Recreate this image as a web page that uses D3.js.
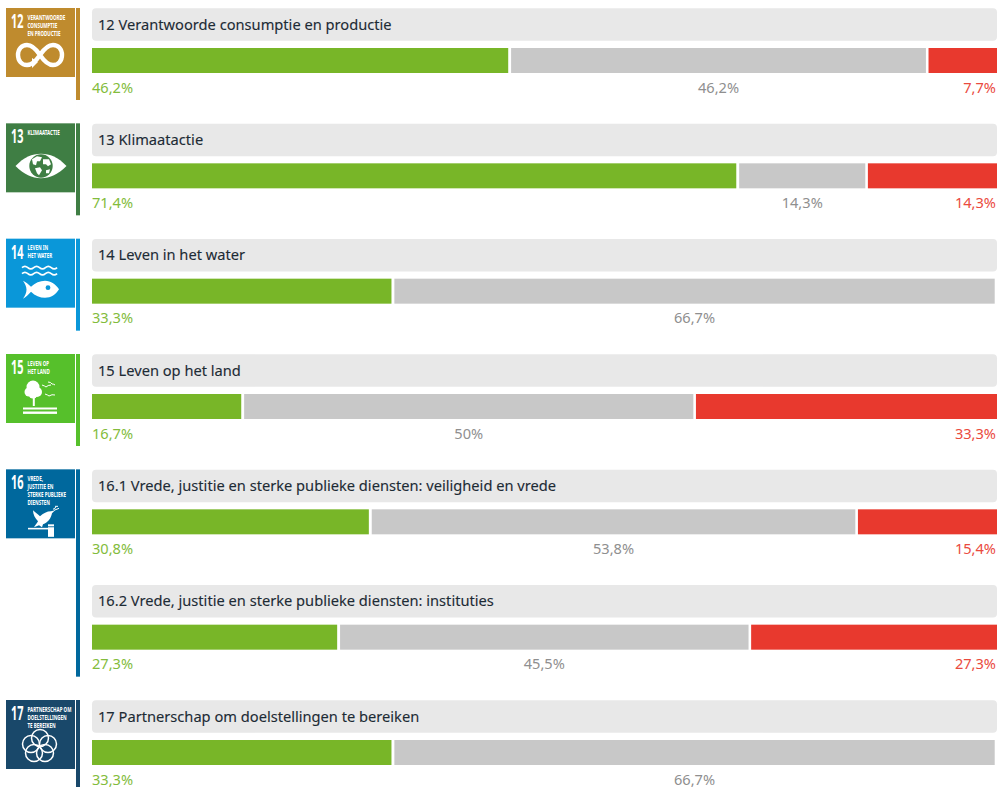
<!DOCTYPE html>
<html>
<head>
<meta charset="utf-8">
<script src="https://cdn.jsdelivr.net/npm/d3@7"></script>
<style>
  html, body { margin: 0; padding: 0; background: #fff; overflow: hidden; }
  text { font-family: "Noto Sans", sans-serif; }
</style>
</head>
<body>
<svg id="chart" width="998" height="787"></svg>
<script>
const rowTitles = [
  '12 Verantwoorde consumptie en productie',
  '13 Klimaatactie',
  '14 Leven in het water',
  '15 Leven op het land',
  '16.1 Vrede, justitie en sterke publieke diensten: veiligheid en vrede',
  '16.2 Vrede, justitie en sterke publieke diensten: instituties',
  '17 Partnerschap om doelstellingen te bereiken'
];
const greenValues = [46.2, 71.4, 33.3, 16.7, 30.8, 27.3, 33.3];
const greyValues = [46.2, 14.3, 66.7, 50, 53.8, 45.5, 66.7];
const redValues = [7.7, 14.3, 0, 33.3, 15.4, 27.3, 0];

// goals: first row, last row, tile number, tile caption
const goalNumbers = ['12', '13', '14', '15', '16', '17'];
const goalFirstRows = [0, 1, 2, 3, 4, 6];
const goalLastRows = [0, 1, 2, 3, 5, 6];
const goalColors = ['#bf8b2e', '#3f7e44', '#0a97d9', '#56c02b', '#00689d', '#19486a'];
const goalCaptions = [
  ['VERANTWOORDE', 'CONSUMPTIE', 'EN PRODUCTIE'],
  ['KLIMAATACTIE'],
  ['LEVEN IN', 'HET WATER'],
  ['LEVEN OP', 'HET LAND'],
  ['VREDE,', 'JUSTITIE EN', 'STERKE PUBLIEKE', 'DIENSTEN'],
  ['PARTNERSCHAP OM', 'DOELSTELLINGEN', 'TE BEREIKEN']
];

const svg = d3.select('#chart');
const x = d3.scaleLinear().domain([0, 100]).range([92, 997]);
const rowY = d3.scaleLinear().domain([0, 6]).range([8, 700]);

const fmt = v => String(v).replace('.', ',') + '%';

function drawRow(title, i) {
  const top = rowY(i);
  const g = svg.append('g');
  const green = greenValues[i];
  const grey = greyValues[i];
  const red = redValues[i];
  const greyStart = x(green) + 1;
  const greyEnd = x(green + grey) - 2.3;

  g.append('rect')
    .attr('x', 92).attr('y', top + 0.3)
    .attr('width', 905).attr('height', 32.5)
    .attr('rx', 4)
    .attr('fill', '#e8e8e8');
  g.append('text')
    .attr('x', 98).attr('y', top + 21.7)
    .attr('font-size', 14.65)
    .attr('fill', '#1d2b35')
    .attr('stroke', '#1d2b35').attr('stroke-width', 0.12)
    .text(title);

  const barTop = top + 40;
  g.append('rect')
    .attr('x', x(0)).attr('y', barTop)
    .attr('width', x(green) - x(0) - 1.9).attr('height', 25)
    .attr('fill', '#78b628');
  g.append('rect')
    .attr('x', greyStart).attr('y', barTop)
    .attr('width', greyEnd - greyStart).attr('height', 25)
    .attr('fill', '#c8c8c8');
  if (red > 0) {
    g.append('rect')
      .attr('x', x(green + grey) + 0.3).attr('y', barTop)
      .attr('width', x(100) - x(green + grey) - 0.3).attr('height', 25)
      .attr('fill', '#e8392e');
  }

  const labelY = top + 84.5;
  g.append('text')
    .attr('x', x(0)).attr('y', labelY)
    .attr('font-size', 14.6).attr('fill', '#83bc3c')
    .text(fmt(green));
  g.append('text')
    .attr('x', (greyStart + greyEnd) / 2).attr('y', labelY)
    .attr('text-anchor', 'middle')
    .attr('font-size', 14.6).attr('fill', '#8f8f8f')
    .text(fmt(grey));
  if (red > 0) {
    g.append('text')
      .attr('x', 996).attr('y', labelY)
      .attr('text-anchor', 'end')
      .attr('font-size', 14.6).attr('fill', '#ea4a3e')
      .text(fmt(red));
  }
}

// the tile icons, drawn in a 69x69 box
const icons = {
  '12': g => {
    g.append('path')
      .attr('d', 'M34 47 C30 41 26 37 21 37 C15.5 37 12 41.5 12 47 C12 52.5 15.5 57 21 57 C26 57 30 53 34 47 C38 41 42 37 47 37 C52.5 37 56 41.5 56 47 C56 52.5 52.5 57 47 57 C42 57 38 53 34 47 Z')
      .attr('fill', 'none').attr('stroke', '#fff').attr('stroke-width', 4.4);
    g.append('path').attr('d', 'M26 50 L32 54 L26 60 Z').attr('fill', '#fff');
  },
  '13': g => {
    g.append('path')
      .attr('d', 'M9.5 42.7 C18 34 26 30.5 35 30.5 C44 30.5 52 34 60.5 42.7 C52 51 44 55 35 55 C26 55 18 51 9.5 42.7 Z')
      .attr('fill', '#fff');
    g.append('circle').attr('cx', 35).attr('cy', 42.7).attr('r', 11.7).attr('fill', '#3f7e44');
    g.append('path')
      .attr('d', 'M26 36 L31 33 L36 34 L34 38 L31 38 L30 42 L27 41 Z M37 36 L43 36 L45 41 L42 43 L40 41 L37 41 Z M29 45 L34 44 L36 47 L33 52 L31 50 Z M40 47 L44 46 L43 50 L40 50 Z')
      .attr('fill', '#fff');
  },
  '14': g => {
    const wave = 'q2.9 -2.6 5.85 0 t5.85 0 t5.85 0 t5.85 0 t5.85 0 t5.85 0';
    [29, 35].forEach(y => {
      g.append('path').attr('d', `M16 ${y} ${wave}`)
        .attr('fill', 'none').attr('stroke', '#fff').attr('stroke-width', 1.7);
    });
    g.append('path')
      .attr('d', 'M17 42 C20 43.5 23 46 25 48 C29 44 34 42 39 42 C45 42 50 46 53 50.5 C50 55.5 45 59 39 59 C34 59 29 57 25 53 C23 55.5 20 58 17 60 C19 57 20.5 54 20.5 51 C20.5 48 19 45 17 42 Z')
      .attr('fill', '#fff');
    g.append('circle').attr('cx', 42).attr('cy', 49).attr('r', 2.4).attr('fill', '#0a97d9');
  },
  '15': g => {
    [[27, 33, 6.5], [23, 38, 4.5], [31, 38, 5], [27, 40, 4.5]].forEach(c => {
      g.append('circle').attr('cx', c[0]).attr('cy', c[1]).attr('r', c[2]).attr('fill', '#fff');
    });
    g.append('rect').attr('x', 26.8).attr('y', 43).attr('width', 2).attr('height', 9).attr('fill', '#fff');
    g.append('rect').attr('x', 17).attr('y', 53.5).attr('width', 34).attr('height', 2).attr('fill', '#fff');
    g.append('rect').attr('x', 17).attr('y', 57.5).attr('width', 34).attr('height', 2.4).attr('fill', '#fff');
    ['M36 31 q3 1 4 2 q2 -2 5 -2', 'M42 28 q3 0 4 2 q2 0 3 1', 'M39 40 q3 1 4 2 q3 -2 6 -1'].forEach(d => {
      g.append('path').attr('d', d).attr('fill', 'none').attr('stroke', '#fff').attr('stroke-width', 1);
    });
  },
  '16': g => {
    g.append('path')
      .attr('d', 'M27 41 C29 43 32 45 34 47 C37 44 41 42 45 42 L49 41 L46 44 C45 49 42 53 37 55 L36 58 L33 56 L28 58 C29 56 31 54 32 52 C29 49 27 45 27 41 Z')
      .attr('fill', '#fff');
    g.append('path').attr('d', 'M47 40 L50 38 M48 41 L53 39 M49 37 L52 37').attr('stroke', '#fff').attr('stroke-width', 1);
    g.append('rect').attr('x', 22).attr('y', 58.5).attr('width', 21).attr('height', 1.6).attr('fill', '#fff');
    g.append('rect').attr('x', 42).attr('y', 55).attr('width', 6).attr('height', 12.5).attr('fill', '#fff');
    g.append('rect').attr('x', 42).attr('y', 57).attr('width', 6).attr('height', 0.9).attr('fill', '#00689d');
  },
  '17': g => {
    [[34, 38], [42, 44], [39, 53], [28, 53], [25, 44]].forEach(c => {
      g.append('circle').attr('cx', c[0]).attr('cy', c[1]).attr('r', 8.5)
        .attr('fill', 'none').attr('stroke', '#fff').attr('stroke-width', 1.5);
    });
  }
};

function drawGoal(number, i) {
  const first = rowY(goalFirstRows[i]);
  const last = rowY(goalLastRows[i]);
  const color = goalColors[i];
  const tile = svg.append('g').attr('transform', `translate(6,${first})`);

  tile.append('rect').attr('width', 69).attr('height', 69).attr('fill', color);
  svg.append('rect')
    .attr('x', 76).attr('y', first)
    .attr('width', 4).attr('height', last + 92 - first)
    .attr('fill', color);

  tile.append('text')
    .attr('transform', 'translate(5,20) scale(0.56,1)')
    .attr('font-family', '"Liberation Sans"')
    .attr('font-size', 19.5).attr('font-weight', 700)
    .attr('fill', '#fff')
    .text(number);

  goalCaptions[i].forEach((line, k) => {
    tile.append('text')
      .attr('transform', `translate(21.5,${11.7 + k * 8}) scale(0.66,1)`)
      .attr('font-family', '"Liberation Sans"')
      .attr('font-size', 6.8).attr('font-weight', 700)
      .attr('fill', '#fff')
      .text(line);
  });

  icons[number](tile);
}

rowTitles.forEach(drawRow);
goalNumbers.forEach(drawGoal);
</script>
</body>
</html>
